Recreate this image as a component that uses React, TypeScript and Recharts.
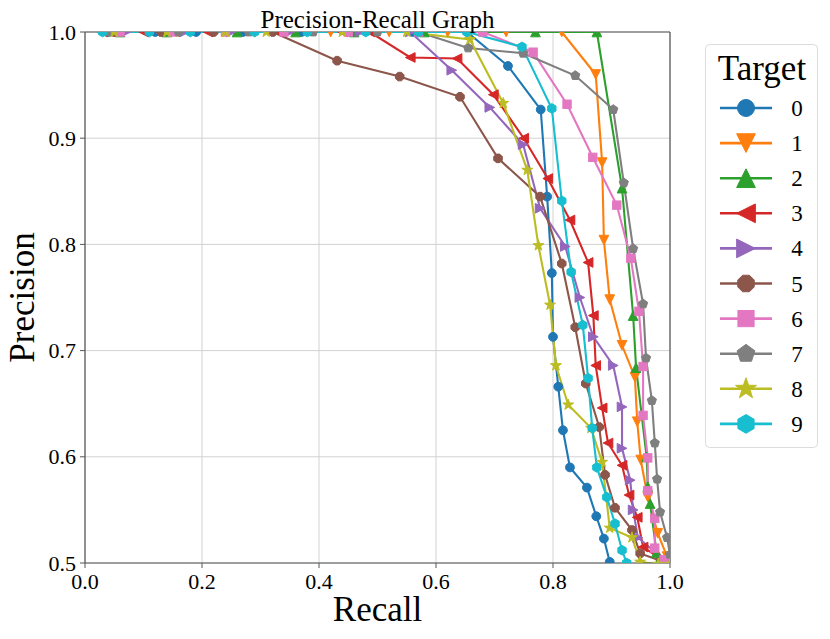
import React from 'react';
import { LineChart, Line, XAxis, YAxis, CartesianGrid, ReferenceLine } from 'recharts';

// class labels, colours and matplotlib-style marker codes
const targets = ['0', '1', '2', '3', '4', '5', '6', '7', '8', '9'];
const colors = ['#1f77b4', '#ff7f0e', '#2ca02c', '#d62728', '#9467bd', '#8c564b', '#e377c2', '#7f7f7f', '#bcbd22', '#17becf'];
const markers = ['o', 'v', '^', '<', '>', '8', 's', 'p', '*', 'h'];

const recallTicks = [0, 0.2, 0.4, 0.6, 0.8, 1.0];
const precisionTicks = [0.5, 0.6, 0.7, 0.8, 0.9, 1.0];

// [recall, precision]
const pr0 = [[0.04, 1], [0.12, 1], [0.19, 1], [0.27, 1], [0.37, 1], [0.46, 1], [0.56, 1], [0.653, 1], [0.723, 0.968], [0.779, 0.927], [0.79, 0.845], [0.798, 0.773], [0.8, 0.713], [0.809, 0.666], [0.817, 0.625], [0.829, 0.59], [0.858, 0.571], [0.874, 0.544], [0.887, 0.523], [0.897, 0.501], [0.905, 0.47]];
const pr1 = [[0.05, 1], [0.16, 1], [0.29, 1], [0.42, 1], [0.52, 1], [0.62, 1], [0.72, 1], [0.815, 1], [0.873, 0.96], [0.884, 0.877], [0.887, 0.804], [0.897, 0.748], [0.918, 0.705], [0.94, 0.675], [0.944, 0.633], [0.95, 0.597], [0.962, 0.562], [0.979, 0.528], [0.995, 0.506], [1.0, 0.1]];
const pr2 = [[0.06, 1], [0.14, 1], [0.26, 1], [0.36, 1], [0.46, 1], [0.58, 1], [0.77, 1], [0.875, 1], [0.918, 0.853], [0.937, 0.733], [0.942, 0.684], [0.96, 0.6], [0.962, 0.572], [0.966, 0.556], [0.977, 0.51], [1.0, 0.1]];
const pr3 = [[0.03, 1], [0.1, 1], [0.21, 1], [0.33, 1], [0.44, 1], [0.487, 1], [0.556, 0.976], [0.636, 0.975], [0.698, 0.941], [0.75, 0.9], [0.791, 0.862], [0.829, 0.823], [0.86, 0.783], [0.869, 0.733], [0.873, 0.686], [0.884, 0.646], [0.894, 0.613], [0.918, 0.592], [0.93, 0.564], [0.944, 0.543], [0.954, 0.515], [0.99, 0.502], [1.0, 0.1]];
const pr4 = [[0.07, 1], [0.17, 1], [0.25, 1], [0.35, 1], [0.47, 1], [0.556, 1], [0.627, 0.964], [0.692, 0.929], [0.749, 0.894], [0.778, 0.834], [0.821, 0.798], [0.846, 0.75], [0.869, 0.713], [0.903, 0.686], [0.918, 0.647], [0.918, 0.608], [0.932, 0.578], [0.937, 0.55], [0.945, 0.524], [0.99, 0.503], [1.0, 0.1]];
const pr5 = [[0.05, 1], [0.13, 1], [0.22, 1], [0.321, 1], [0.431, 0.973], [0.538, 0.958], [0.641, 0.939], [0.706, 0.881], [0.778, 0.845], [0.815, 0.782], [0.838, 0.722], [0.856, 0.669], [0.879, 0.628], [0.889, 0.583], [0.906, 0.552], [0.935, 0.531], [0.949, 0.509], [0.99, 0.501], [1.0, 0.1]];
const pr6 = [[0.06, 1], [0.15, 1], [0.24, 1], [0.34, 1], [0.45, 1], [0.57, 1], [0.68, 1], [0.766, 0.981], [0.824, 0.932], [0.868, 0.882], [0.909, 0.837], [0.933, 0.787], [0.947, 0.737], [0.954, 0.685], [0.954, 0.639], [0.962, 0.599], [0.962, 0.568], [0.974, 0.542], [0.974, 0.514], [0.99, 0.503], [1.0, 0.1]];
const pr7 = [[0.04, 1], [0.16, 1], [0.28, 1], [0.39, 1], [0.5, 1], [0.57, 1], [0.655, 0.985], [0.749, 0.98], [0.838, 0.959], [0.903, 0.927], [0.921, 0.858], [0.937, 0.796], [0.954, 0.744], [0.959, 0.693], [0.969, 0.653], [0.974, 0.613], [0.978, 0.579], [0.983, 0.548], [0.995, 0.524], [1.0, 0.508], [1.0, 0.1]];
const pr8 = [[0.05, 1], [0.14, 1], [0.24, 1], [0.31, 1], [0.44, 1], [0.55, 1], [0.658, 0.993], [0.715, 0.933], [0.756, 0.87], [0.775, 0.799], [0.795, 0.743], [0.805, 0.686], [0.826, 0.649], [0.865, 0.627], [0.884, 0.595], [0.897, 0.533], [0.935, 0.524], [0.949, 0.501], [0.98, 0.499], [1.0, 0.499]];
const pr9 = [[0.03, 1], [0.11, 1], [0.18, 1], [0.29, 1], [0.38, 1], [0.48, 1], [0.57, 1], [0.653, 1], [0.747, 0.986], [0.798, 0.928], [0.815, 0.841], [0.831, 0.774], [0.851, 0.724], [0.86, 0.674], [0.867, 0.627], [0.875, 0.59], [0.892, 0.562], [0.906, 0.537], [0.918, 0.512], [0.926, 0.5], [0.94, 0.47]];

const curves = [pr0, pr1, pr2, pr3, pr4, pr5, pr6, pr7, pr8, pr9];

const series = targets.map((name, i) => ({
    name,
    color: colors[i],
    marker: markers[i],
    data: curves[i].map(([r, p]) => ({ r, p })),
}));

const FONT = '"Liberation Serif", "Times New Roman", serif';

function polyPoints(n: number, r: number, rot: number, x: number, y: number) {
    const pts: string[] = [];
    for (let k = 0; k < n; k++) {
        const a = rot + (k * 2 * Math.PI) / n;
        pts.push(`${x + r * Math.cos(a)},${y + r * Math.sin(a)}`);
    }
    return pts.join(' ');
}

function starPoints(r: number, x: number, y: number) {
    const pts: string[] = [];
    for (let k = 0; k < 10; k++) {
        const a = -Math.PI / 2 + (k * Math.PI) / 5;
        const rr = k % 2 === 0 ? r : r * 0.4;
        pts.push(`${x + rr * Math.cos(a)},${y + rr * Math.sin(a)}`);
    }
    return pts.join(' ');
}

function Marker({ shape, x, y, s, color }: { shape: string, x: number, y: number, s: number, color: string }) {
    const common = { fill: color, stroke: color, strokeWidth: 1 };
    switch (shape) {
        case 'o':
            return <circle cx={x} cy={y} r={s} {...common} />;
        case 'v':
            return <polygon points={`${x},${y + s * 1.1} ${x - s * 1.1},${y - s * 1.1} ${x + s * 1.1},${y - s * 1.1}`} {...common} />;
        case '^':
            return <polygon points={`${x},${y - s * 1.1} ${x - s * 1.1},${y + s * 1.1} ${x + s * 1.1},${y + s * 1.1}`} {...common} />;
        case '<':
            return <polygon points={`${x - s * 1.1},${y} ${x + s * 1.1},${y - s * 1.1} ${x + s * 1.1},${y + s * 1.1}`} {...common} />;
        case '>':
            return <polygon points={`${x + s * 1.1},${y} ${x - s * 1.1},${y - s * 1.1} ${x - s * 1.1},${y + s * 1.1}`} {...common} />;
        case '8':
            return <polygon points={polyPoints(8, s * 1.05, Math.PI / 8, x, y)} {...common} />;
        case 's':
            return <rect x={x - s * 0.95} y={y - s * 0.95} width={s * 1.9} height={s * 1.9} {...common} />;
        case 'p':
            return <polygon points={polyPoints(5, s * 1.1, -Math.PI / 2, x, y)} {...common} />;
        case '*':
            return <polygon points={starPoints(s * 1.3, x, y)} {...common} />;
        case 'h':
            return <polygon points={polyPoints(6, s * 1.1, -Math.PI / 2, x, y)} {...common} />;
        default:
            return null;
    }
}

const makeDot = (shape: string, color: string) => (props: any) => {
    const { cx, cy, index } = props;
    if (cx == null || cy == null) return <g key={`d-${index}`} />;
    return (
        <g key={`d-${index}`}>
            <Marker shape={shape} x={cx} y={cy} s={4.4} color={color} />
        </g>
    );
};

// serif tick labels, drawn by hand so the font sticks
const XTick = (props: any) => {
    const { x, y, payload } = props;
    return (
        <text x={x} y={y + 19} textAnchor="middle" fontSize={22} fontFamily={FONT} fill="#000">
            {Number(payload.value).toFixed(1)}
        </text>
    );
};

const YTick = (props: any) => {
    const { x, y, payload } = props;
    return (
        <text x={x - 1} y={y + 7.5} textAnchor="end" fontSize={22} fontFamily={FONT} fill="#000">
            {Number(payload.value).toFixed(1)}
        </text>
    );
};

export default function App() {
    return (
        <div style={{ position: 'absolute', left: 0, top: 0, width: 830, height: 639, background: '#fff', fontFamily: FONT }}>
            <LineChart width={830} height={639} margin={{ top: 32, right: 160, bottom: 0, left: 0 }}>
                <CartesianGrid stroke="#d2d2d2" strokeWidth={1} />
                <XAxis
                    type="number"
                    dataKey="r"
                    domain={[0, 1]}
                    ticks={recallTicks}
                    allowDataOverflow
                    height={76}
                    tick={<XTick />}
                    tickSize={5}
                    tickLine={{ stroke: '#555' }}
                    axisLine={{ stroke: '#555', strokeWidth: 1.2 }}
                    tickMargin={2}
                />
                <YAxis
                    type="number"
                    dataKey="p"
                    domain={[0.5, 1]}
                    ticks={precisionTicks}
                    allowDataOverflow
                    width={85}
                    tick={<YTick />}
                    tickSize={5}
                    tickLine={{ stroke: '#555' }}
                    axisLine={{ stroke: '#555', strokeWidth: 1.2 }}
                    tickMargin={3}
                />
                <ReferenceLine y={1} stroke="#555" strokeWidth={1.2} />
                <ReferenceLine x={1} stroke="#555" strokeWidth={1.2} />
                {series.map(s => (
                    <Line
                        key={s.name}
                        data={s.data}
                        dataKey="p"
                        name={s.name}
                        type="linear"
                        stroke={s.color}
                        strokeWidth={2.1}
                        dot={makeDot(s.marker, s.color)}
                        activeDot={false}
                        isAnimationActive={false}
                    />
                ))}
            </LineChart>
            <svg width={830} height={639} style={{ position: 'absolute', left: 0, top: 0, pointerEvents: 'none' }}>
                <text x={377.5} y={28} textAnchor="middle" fontSize={25} fontFamily={FONT} fill="#000">Precision-Recall Graph</text>
                <text x={377.5} y={621} textAnchor="middle" fontSize={35} fontFamily={FONT} fill="#000">Recall</text>
                <text x={34} y={297.5} textAnchor="middle" fontSize={35} fontFamily={FONT} fill="#000" transform="rotate(-90 34 297.5)">Precision</text>
                <rect x={705.5} y={44.5} width={112} height={403} rx={4} fill="#fff" stroke="#dcdcdc" strokeWidth={1} />
                <text x={762} y={80} textAnchor="middle" fontSize={35} fontFamily={FONT} fill="#000">Target</text>
                {series.map((s, i) => {
                    const y = 108 + 35.1 * i;
                    return (
                        <g key={s.name}>
                            <line x1={720} x2={772} y1={y} y2={y} stroke={s.color} strokeWidth={2.6} />
                            <Marker shape={s.marker} x={746} y={y} s={8.5} color={s.color} />
                            <text x={797} y={y + 8} textAnchor="middle" fontSize={23} fontFamily={FONT} fill="#000">{s.name}</text>
                        </g>
                    );
                })}
            </svg>
        </div>
    );
}
